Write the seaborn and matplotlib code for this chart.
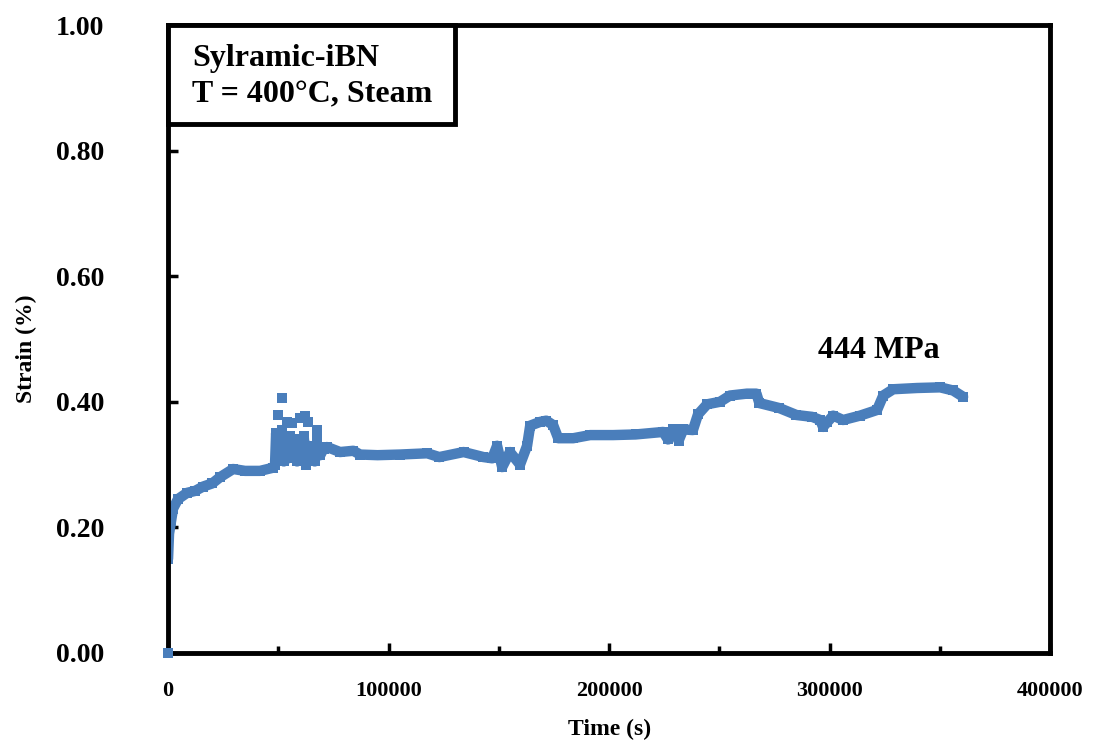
import numpy as np
import pandas as pd
import seaborn as sns
import matplotlib.pyplot as plt
from matplotlib.patches import Rectangle
from matplotlib.ticker import MultipleLocator, FormatStrFormatter

# creep strain history
time_s = [0, 450, 1360, 2270, 4500, 8600, 12200, 15900, 20000, 23600,
          29500, 34900, 41700, 47600, 48500, 49000, 49500, 50000, 50500, 51500,
          52500, 53500, 54500, 55500, 56500, 57500, 58500, 59500, 60500, 61500,
          62500, 63500, 64500, 65500, 66500, 67500, 69000, 70500, 72100, 78000,
          84000, 87100, 95000, 105000, 117500, 123000, 134000, 143000, 147000, 149200,
          151500, 155000, 159600, 162800, 164200, 168700, 171500, 174600, 176900, 183700,
          191400, 201800, 212000, 224500, 226700, 229000, 231500, 233600, 238000, 240300,
          244400, 250300, 254800, 262500, 266800, 268100, 277200, 284900, 292100, 295700,
          297000, 299000, 301600, 306100, 313800, 321500, 324300, 328800, 339700, 350100,
          356000, 360500]
strain = [0.15, 0.19, 0.21, 0.23, 0.245, 0.255, 0.258, 0.265, 0.27, 0.28,
          0.293, 0.29, 0.29, 0.295, 0.30, 0.35, 0.31, 0.345, 0.32, 0.355,
          0.305, 0.34, 0.31, 0.345, 0.32, 0.34, 0.305, 0.335, 0.31, 0.345,
          0.30, 0.33, 0.31, 0.325, 0.305, 0.33, 0.315, 0.325, 0.328, 0.32,
          0.322, 0.316, 0.315, 0.316, 0.318, 0.312, 0.32, 0.312, 0.31, 0.33,
          0.296, 0.32, 0.30, 0.33, 0.362, 0.368, 0.37, 0.363, 0.342, 0.342,
          0.347, 0.347, 0.348, 0.352, 0.34, 0.356, 0.338, 0.356, 0.355, 0.38,
          0.396, 0.40, 0.41, 0.413, 0.413, 0.398, 0.39, 0.379, 0.376, 0.371,
          0.36, 0.368, 0.378, 0.371, 0.378, 0.387, 0.41, 0.42, 0.422, 0.423,
          0.418, 0.408]

# scattered points around the load step near 50000 s
spike_time = [0, 49700, 51700, 54000, 56200, 59900, 62100, 63500, 67600, 67600, 67600]
spike_strain = [0.0, 0.379, 0.406, 0.368, 0.366, 0.374, 0.377, 0.368, 0.355, 0.342, 0.331]

df = pd.DataFrame({'Time': time_s, 'Strain': strain})
spikes = pd.DataFrame({'Time': spike_time, 'Strain': spike_strain})

blue = '#4A7EBB'

sns.set_theme(style='white')
plt.rcParams['font.family'] = ['Liberation Serif', 'DejaVu Serif']
plt.rcParams['font.weight'] = 'bold'
plt.rcParams['text.color'] = 'black'
plt.rcParams['axes.labelcolor'] = 'black'
plt.rcParams['xtick.color'] = 'black'
plt.rcParams['ytick.color'] = 'black'

fig = plt.figure(figsize=(11.02, 7.51), dpi=100)
ax = fig.add_axes([0.1525, 0.1305, 0.8005, 0.8362])

sns.lineplot(data=df, x='Time', y='Strain', ax=ax, color=blue, linewidth=7.5,
             estimator=None, sort=False, marker='s', markersize=7,
             markeredgewidth=0, solid_capstyle='round', solid_joinstyle='round')
sns.scatterplot(data=spikes, x='Time', y='Strain', ax=ax, color=blue,
                marker='s', s=45, linewidth=0, clip_on=False, zorder=4)

ax.set_xlim(0, 400000)
ax.set_ylim(0, 1.0)
ax.xaxis.set_major_locator(MultipleLocator(100000))
ax.xaxis.set_minor_locator(MultipleLocator(50000))
ax.yaxis.set_major_locator(MultipleLocator(0.2))
ax.yaxis.set_major_formatter(FormatStrFormatter('%.2f'))

for sp in ax.spines.values():
    sp.set_visible(True)
    sp.set_color('black')
    sp.set_linewidth(3.5)

ax.tick_params(axis='x', which='major', direction='in', length=7, width=2.5,
               labelsize=16, pad=20, bottom=True)
ax.tick_params(axis='x', which='minor', direction='in', length=5, width=2.5, bottom=True)
ax.tick_params(axis='y', which='major', direction='in', length=7, width=2.5,
               labelsize=20, pad=46, left=True)
for lbl in ax.get_xticklabels() + ax.get_yticklabels():
    lbl.set_fontweight('bold')

ax.set_xlabel('Time (s)', fontsize=17, fontweight='bold')
ax.set_ylabel('Strain (%)', fontsize=17, fontweight='bold')
ax.xaxis.set_label_coords(0.5, -0.105)
ax.yaxis.set_label_coords(-0.148, 0.484)

# legend-like text box in the upper left corner
ax.add_patch(Rectangle((0, 0.842), 0.3254, 0.158, transform=ax.transAxes,
                       facecolor='white', edgecolor='black', linewidth=3.5,
                       zorder=5, clip_on=False))
ax.text(0.027, 0.935, 'Sylramic-iBN', transform=ax.transAxes, fontsize=23,
        fontweight='bold', va='baseline', zorder=6)
ax.text(0.027, 0.877, 'T = 400\u00b0C, Steam', transform=ax.transAxes, fontsize=23,
        fontweight='bold', va='baseline', zorder=6)
ax.text(0.737, 0.470, '444 MPa', transform=ax.transAxes, fontsize=23,
        fontweight='bold', va='baseline')

fig.savefig('out.png', dpi=100)
